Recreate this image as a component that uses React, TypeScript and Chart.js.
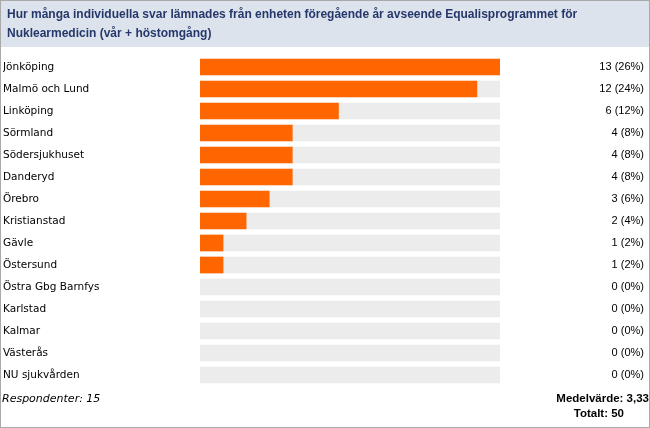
import React, { useEffect, useRef } from "react";
import { Chart, registerables } from "chart.js";

Chart.register(...registerables);

const titleLines = [
  "Hur många individuella svar lämnades från enheten föregående år avseende Equalisprogrammet för",
  "Nuklearmedicin (vår + höstomgång)",
];
const categories = [
  "Jönköping",
  "Malmö och Lund",
  "Linköping",
  "Sörmland",
  "Södersjukhuset",
  "Danderyd",
  "Örebro",
  "Kristianstad",
  "Gävle",
  "Östersund",
  "Östra Gbg Barnfys",
  "Karlstad",
  "Kalmar",
  "Västerås",
  "NU sjukvården",
];
const counts = [13, 12, 6, 4, 4, 4, 3, 2, 1, 1, 0, 0, 0, 0, 0];
const percents = [26, 24, 12, 8, 8, 8, 6, 4, 2, 2, 0, 0, 0, 0, 0];
const respondentsText = "Respondenter: 15";
const meanText = "Medelvärde: 3,33";
const totalText = "Totalt: 50";
const scaleMax = 13;

const valueLabels = counts.map((c, i) => `${c} (${percents[i]}%)`);
const trackValues = categories.map(() => scaleMax);
const drawnCounts = counts.map((c) => (c === 0 ? null : c));

const framePlugin = {
  id: "frame",
  beforeDraw(chart: any) {
    const { ctx, width } = chart;
    ctx.save();
    ctx.fillStyle = "#ffffff";
    ctx.fillRect(0, 0, width, chart.height);
    ctx.fillStyle = "#dde3ec";
    ctx.fillRect(0, 0, width, 47);
    ctx.fillStyle = "#26386b";
    ctx.font = "bold 12px 'Liberation Sans', Arial, sans-serif";
    ctx.textBaseline = "middle";
    ctx.textAlign = "left";
    titleLines.forEach((t, i) => ctx.fillText(t, 7, 15 + i * 19));
    ctx.restore();
  },
  afterDraw(chart: any) {
    const { ctx, width, height } = chart;
    ctx.save();
    ctx.fillStyle = "#000000";
    ctx.textBaseline = "middle";
    ctx.font = "italic 11px 'DejaVu Sans', sans-serif";
    ctx.textAlign = "left";
    ctx.fillText(respondentsText, 2, 399);
    ctx.font = "bold 11.5px 'Liberation Sans', Arial, sans-serif";
    ctx.textAlign = "right";
    ctx.fillText(meanText, 649, 399);
    ctx.fillText(totalText, 624, 414);
    ctx.strokeStyle = "#a9a9a9";
    ctx.lineWidth = 1;
    ctx.strokeRect(0.5, 0.5, width - 1, height - 1);
    ctx.restore();
  },
};

export default function App() {
  const ref = useRef<HTMLCanvasElement>(null);
  useEffect(() => {
    document.body.style.margin = "0";
    const chart = new Chart(ref.current!, {
      type: "bar",
      data: {
        labels: categories,
        datasets: [
          {
            label: "track",
            data: trackValues,
            backgroundColor: "#ececec",
            barThickness: 16,
            order: 2,
          },
          {
            label: "Antal",
            data: drawnCounts,
            backgroundColor: "#ff6600",
            barThickness: 16,
            order: 1,
          },
        ],
      },
      options: {
        indexAxis: "y",
        responsive: false,
        animation: false,
        datasets: { bar: { grouped: false } },
        layout: { padding: { left: 3, right: 6, top: 56, bottom: 42 } },
        plugins: {
          legend: { display: false },
          tooltip: { enabled: false },
          title: { display: false },
        },
        scales: {
          x: { min: 0, max: scaleMax, display: false },
          y: {
            position: "left",
            grid: { display: false },
            border: { display: false },
            ticks: {
              crossAlign: "far",
              color: "#000",
              font: { family: "'DejaVu Sans', sans-serif", size: 10.5 },
              padding: 0,
            },
            afterFit(scale: any) {
              scale.width = 197;
            },
          },
          y2: {
            type: "category",
            labels: categories,
            position: "right",
            grid: { display: false },
            border: { display: false },
            ticks: {
              crossAlign: "far",
              color: "#000",
              font: { family: "'Liberation Sans', Arial, sans-serif", size: 11 },
              padding: 0,
              callback: (_v: any, i: number) => valueLabels[i],
            },
            afterFit(scale: any) {
              scale.width = 144;
            },
          },
        },
      },
      plugins: [framePlugin],
    } as any);
    return () => chart.destroy();
  }, []);
  return (
    <div style={{ width: 650, height: 428 }}>
      <canvas ref={ref} width={650} height={428} />
    </div>
  );
}
